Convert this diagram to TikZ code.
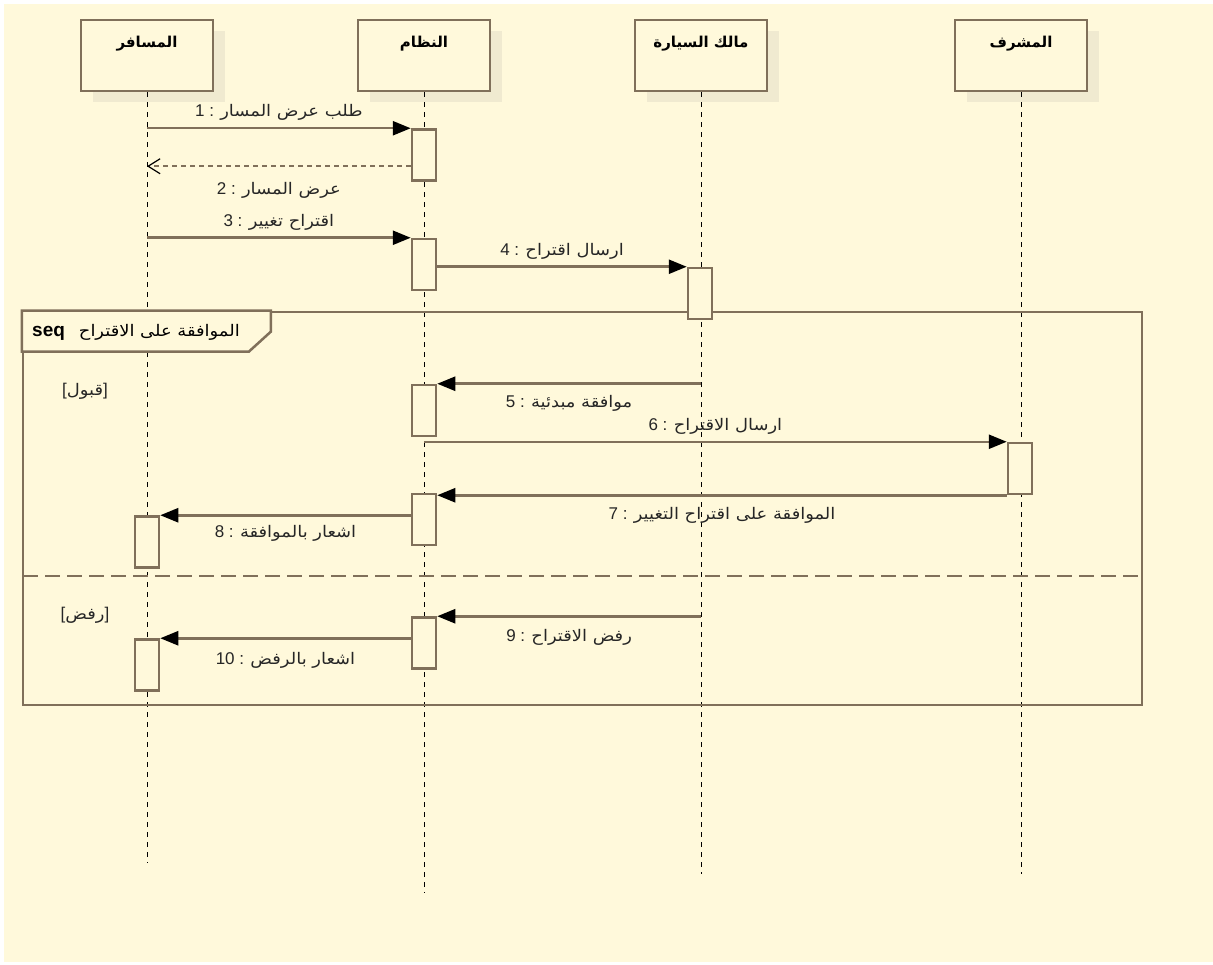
\documentclass[tikz,border=0pt]{standalone}
\usepackage{fontspec}
\setmainfont{Liberation Sans}
\newfontfamily\arabicfont[Script=Arabic, FakeStretch=1.12]{DejaVu Sans}
\newfontfamily\actorfont[Script=Arabic]{DejaVu Sans}
\TeXXeTstate=1
\usepackage{xcolor}
\usetikzlibrary{arrows, arrows.meta}
\usetikzlibrary{positioning}
\usetikzlibrary{shadows}

\definecolor{umlbg}{RGB}{255,249,219}
\definecolor{umlline}{RGB}{128,112,90}
\definecolor{umlshadow}{RGB}{240,234,208}
\newcommand{\artext}[1]{{\arabicfont\fontsize{16}{19}\selectfont\beginR #1\endR}}

\begin{document}
\begin{tikzpicture}[x=1pt,y=-1pt,
		actor/.style={draw=umlline, line width=2.5pt, fill=umlbg, minimum width=132pt, minimum height=71pt, inner ysep=16pt, text height=12pt, text depth=27pt, font=\actorfont\bfseries\fontsize{15}{17}\selectfont, general shadow={fill=umlshadow, shadow xshift=12pt, shadow yshift=-11pt}},
		lifeline/.style={draw=black, line width=0.8pt, dash pattern=on 5pt off 5pt},
		act/.style={draw=umlline, line width=2.5pt, fill=umlbg, minimum width=24pt, minimum height=51pt, inner sep=0pt},
		msg/.style={draw=umlline, line width=2.5pt, -{Triangle[length=18pt,width=14pt,color=black]}},
		reply/.style={draw=umlline, line width=2.5pt, dash pattern=on 5pt off 4pt, -{Straight Barb[length=12pt,width=15pt,color=black,line width=1.2pt]}},
		msglabel/.style={font=\fontsize{17}{20}\selectfont, text=black!85, inner sep=0pt, text height=12.5pt, text depth=4pt},
		fragment/.style={draw=umlline, line width=2.5pt, minimum width=1119pt, minimum height=393pt, inner sep=0pt},
		separator/.style={draw=umlline, line width=2.5pt, dash pattern=on 15pt off 7pt},
		guard/.style={font=\fontsize{17}{20}\selectfont, text=black!85}]
			% Background
			\useasboundingbox (0,0) rectangle (1213,965);
			\fill[umlbg] (4,4) rectangle (1213,962);
			
			% Draw lifeline heads
			\node[actor] (pas) at (147,55.5) {\beginR المسافر\endR};
			\node[actor] (sys) at (424,55.5) {\beginR النظام\endR};
			\node[actor] (own) at (701,55.5) {\beginR مالك السيارة\endR};
			\node[actor] (sup) at (1021,55.5) {\beginR المشرف\endR};
			
			% Lifelines
			\coordinate (pasEnd) at (147,863);
			\coordinate (sysEnd) at (424,893);
			\coordinate (ownEnd) at (701,874);
			\coordinate (supEnd) at (1021,874);
			\draw[lifeline] (pas.south) -- (pasEnd);
			\draw[lifeline] (sys.south) -- (sysEnd);
			\draw[lifeline] (own.south) -- (ownEnd);
			\draw[lifeline] (sup.south) -- (supEnd);
			
			% Combined fragment
			\node[fragment] (frag) at (582.5,508.5) {};
			\fill[umlbg, draw=umlline, line width=2.5pt] (frag.north west) -- ++(249,0) -- ++(0,21) -- ++(-22,20) -- ++(-227,0) -- cycle;
			\node[anchor=base west, font=\fontsize{19}{22}\selectfont, inner sep=0pt] (fragLabel) at (32,337) {\textbf{seq}\hspace{14pt}\artext{الموافقة على الاقتراح}};
			\coordinate (sepL) at (23,576);
			\draw[separator] (sepL) -- (sepL -| frag.east);
			\node[guard] (gAcc) at (85,391) {[\artext{قبول}]};
			\node[guard] (gRej) at (85,615) {[\artext{رفض}]};
			
			% Activations
			\node[act] (a1) at (424,155) {};
			\node[act] (a3) at (424,264.5) {};
			\node[act] (a4) at (700,293.5) {};
			\node[act] (a5) at (424,410.5) {};
			\node[act] (a6) at (1020,468.5) {};
			\node[act] (a7) at (424,519.5) {};
			\node[act] (a8) at (147,542) {};
			\node[act] (a9) at (424,643) {};
			\node[act] (a10) at (147,665) {};
			
			% Messages
			\draw[msg] (pas |- a1.north) -- (a1.north west) node[midway, above=6pt, msglabel] {1 : \artext{طلب عرض المسار}};
			\coordinate (r2) at ([yshift=-38pt]a1.north west);
			\draw[reply] (r2) -- (pas |- r2) node[midway, below=15pt, msglabel] {2 : \artext{عرض المسار}};
			\draw[msg] (pas |- a3.north) -- (a3.north west) node[midway, above=6pt, msglabel] {3 : \artext{اقتراح تغيير}};
			\draw[msg] (a3.east |- a4.north) -- (a4.north west) node[midway, above=6pt, msglabel] {4 : \artext{ارسال اقتراح}};
			\draw[msg] (own |- a5.north) -- (a5.north east) node[midway, below=10pt, msglabel] {5 : \artext{موافقة مبدئية}};
			\draw[msg] (sys |- a6.north) -- (a6.north west) node[midway, above=6pt, msglabel] {6 : \artext{ارسال الاقتراح}};
			\draw[msg] (a6.south west) -- (a7.east |- a6.south west) node[midway, below=10pt, msglabel] {7 : \artext{الموافقة على اقتراح التغيير}};
			\draw[msg] (a7.west |- a8.north) -- (a8.north east) node[midway, below=8pt, msglabel] {8 : \artext{اشعار بالموافقة}};
			\draw[msg] (own |- a9.north) -- (a9.north east) node[midway, below=11pt, msglabel] {9 : \artext{رفض الاقتراح}};
			\draw[msg] (a9.west |- a10.north) -- (a10.north east) node[midway, below=12pt, msglabel] {10 : \artext{اشعار بالرفض}};
		\end{tikzpicture}
\end{document}
